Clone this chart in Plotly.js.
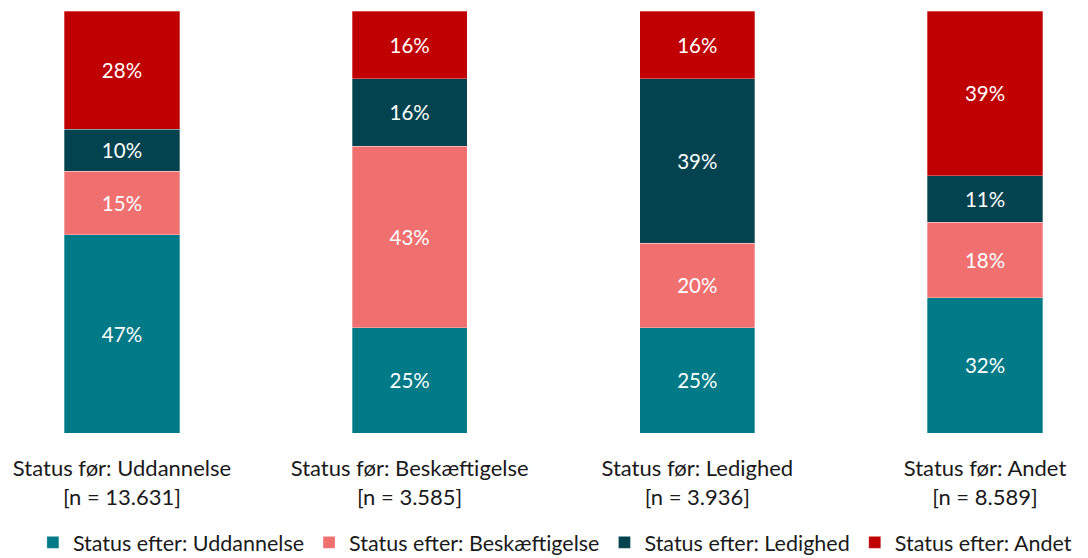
<!DOCTYPE html>
<html><head><meta charset="utf-8">
<script src="https://cdn.plot.ly/plotly-3.0.1.min.js"></script>
<style>html,body{margin:0;padding:0;background:#fff}</style>
</head><body>
<div id="chart" style="width:1088px;height:558px"></div>
<script>
const categories = [
  "Status før: Uddannelse<br>[n = 13.631]",
  "Status før: Beskæftigelse<br>[n = 3.585]",
  "Status før: Ledighed<br>[n = 3.936]",
  "Status før: Andet<br>[n = 8.589]"
];
const seriesNames = ["Status efter: Uddannelse","Status efter: Beskæftigelse","Status efter: Ledighed","Status efter: Andet"];
const uddannelse = [47, 25, 25, 32];
const beskaeftigelse = [15, 43, 20, 18];
const ledighed = [10, 16, 39, 11];
const andet = [28, 16, 16, 39];
const colors = ["#007A87","#F07070","#03434F","#C00000"];

const FONT = "Lato, 'Open Sans', sans-serif";
const xs = [0,1,2,3];
const series = [uddannelse, beskaeftigelse, ledighed, andet];
const traces = series.map((vals,i)=>({
  type:"bar", x:xs, y:vals, name:seriesNames[i],
  width:0.4,
  marker:{color:colors[i], line:{color:"rgba(255,255,255,0.5)", width:0.6}},
  text:vals.map(v=>v+"%"), textposition:"inside", insidetextanchor:"middle",
  textfont:{color:"#ffffff", size:20.5, family:FONT},
  hoverinfo:"none"
}));

const layout = {
  width:1088, height:558,
  barmode:"stack",
  margin:{l:0, r:0, t:11, b:125},
  paper_bgcolor:"#fff", plot_bgcolor:"#fff",
  font:{family:FONT, size:22, color:"#1a1a1a"},
  xaxis:{range:[-0.424,3.358], tickvals:xs, ticktext:categories, showgrid:false, zeroline:false,
         showline:false, ticks:"outside", ticklen:16, tickcolor:"rgba(0,0,0,0)", automargin:false,
         tickfont:{size:22, family:FONT, color:"#1a1a1a"}, fixedrange:true},
  yaxis:{range:[0,100], visible:false, fixedrange:true},
  showlegend:true,
  legend:{orientation:"h", x:0.51, xanchor:"center", xref:"container", y:0.028, yref:"container", yanchor:"middle",
          font:{size:21.5, family:FONT, color:"#1a1a1a"}, traceorder:"normal",
          itemwidth:30, tracegroupgap:0},
  uniformtext:{mode:false}
};
Plotly.newPlot("chart", traces, layout, {displayModeBar:false, staticPlot:true});
</script>
</body></html>
